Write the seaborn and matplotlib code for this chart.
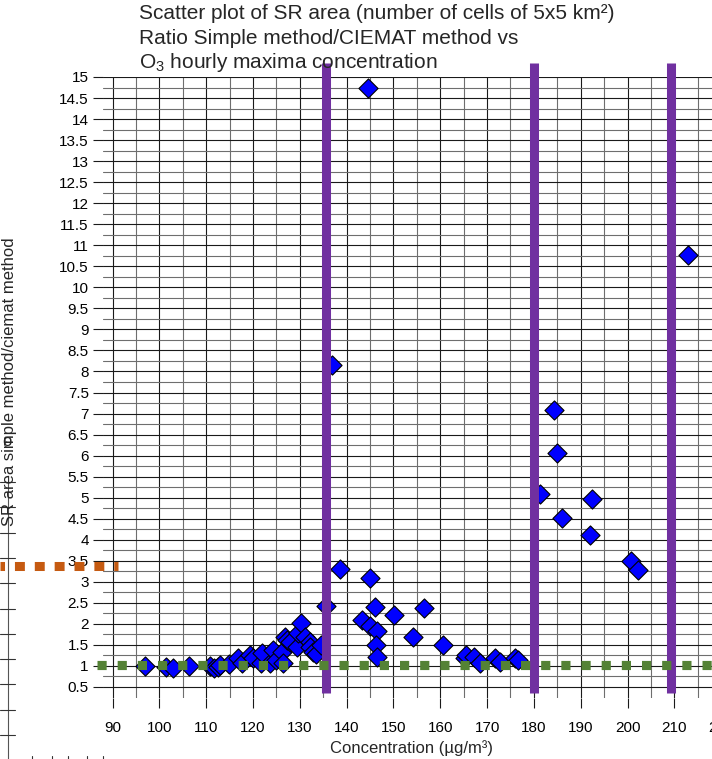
import matplotlib
matplotlib.use("Agg")
import matplotlib.pyplot as plt
import seaborn as sns
import numpy as np
import pandas as pd
from matplotlib.lines import Line2D

# ---------------- data ----------------
conc = [96.9, 101.5, 103.0, 106.4, 110.8, 111.6, 112.5, 113.0, 114.9, 116.8,
        117.6, 119.3, 119.9, 121.6, 122.0, 123.6, 124.2, 125.0, 126.1, 126.3,
        126.8, 127.2, 127.9, 129.3, 129.7, 130.3, 131.1, 132.2, 132.2, 132.9,
        133.5, 134.5, 135.5, 136.9, 138.6, 143.2, 144.6, 145.0, 145.0, 146.0,
        146.4, 146.2, 146.5, 150.1, 154.2, 156.5, 160.6, 165.3, 165.6, 167.1,
        168.5, 171.7, 172.8, 176.0, 176.6, 181.4, 184.3, 185.0, 186.1, 192.0,
        192.4, 200.7, 202.3, 213.0]
ratio = [1.00, 0.98, 0.95, 1.00, 1.00, 0.96, 0.98, 1.02, 1.05, 1.18,
         1.06, 1.26, 1.20, 1.06, 1.30, 1.06, 1.38, 1.14, 1.34, 1.06,
         1.70, 1.62, 1.58, 1.46, 1.78, 2.03, 1.70, 1.58, 1.46, 1.34,
         1.28, 1.50, 2.42, 8.15, 3.30, 2.09, 14.75, 3.10, 1.95, 2.39,
         1.82, 1.50, 1.22, 2.21, 1.68, 2.37, 1.50, 1.18, 1.26, 1.22,
         1.06, 1.18, 1.10, 1.18, 1.14, 5.09, 7.09, 6.06, 4.51, 4.12,
         4.96, 3.50, 3.27, 10.78]
threshold_x = [135.5, 180.0, 209.3]
ratio_one = 1.02
orange_level = 3.38

x_major = list(range(90, 230, 10))
x_minor = list(range(95, 225, 10))
y_major = [v / 2 for v in range(1, 31)]
y_minor = [v / 4 for v in range(3, 60, 2)]

title_lines = ["Scatter plot of SR area (number of cells of 5x5 km\u00b2)",
               "Ratio Simple method/CIEMAT method vs",
               r"O$_3$ hourly maxima concentration"]
xlabel = "Concentration (\u00b5g/m\u00b3)"
ylabel = "SR area simple method/ciemat method"

# ---------------- style ----------------
sns.set_style("white")
plt.rcParams['font.family'] = ['Liberation Sans', 'DejaVu Sans']
plt.rcParams['mathtext.fontset'] = 'custom'
plt.rcParams['mathtext.rm'] = 'Liberation Sans'
plt.rcParams['mathtext.it'] = 'Liberation Sans:italic'
plt.rcParams['mathtext.bf'] = 'Liberation Sans:bold'

W, H = 712, 759
fig = plt.figure(figsize=(W / 100, H / 100), dpi=100)

# axes placement (pixels)
x0_px, x1_px = 103.0, 730.5
y_top_px, y_bot_px = 77.0, 697.5
ax = fig.add_axes([x0_px / W, (H - y_bot_px) / H,
                   (x1_px - x0_px) / W, (y_bot_px - y_top_px) / H])

df = pd.DataFrame({"conc": conc, "ratio": ratio})
sns.scatterplot(data=df, x="conc", y="ratio", marker="D", s=95,
                color="#0000FF", edgecolor="black", linewidth=0.8,
                ax=ax, zorder=3, legend=False)

ax.set_xlim(87.95, 222)
ax.set_ylim(0.25, 15)

ax.set_xticks(x_major)
ax.set_xticks(x_minor, minor=True)
ax.set_yticks(y_major)
ax.set_yticks(y_minor, minor=True)
ax.set_xticklabels([str(v) for v in x_major])
ax.set_yticklabels([f"{v:g}" for v in y_major])

ax.set_axisbelow(True)
ax.grid(which="major", color="#1a1a1a", linewidth=0.8)
ax.grid(which="minor", color="#6e6e6e", linewidth=0.8)
for s in ax.spines.values():
    s.set_visible(False)
ax.tick_params(which="major", direction="out", length=7.2, width=0.8,
               color="#1a1a1a", labelsize=11, labelcolor="black")
ax.tick_params(axis="y", which="major", pad=3.0, left=True)
ax.tick_params(axis="x", which="major", pad=10, bottom=True)
ax.tick_params(which="minor", length=0)
ax.set_xlabel("")
ax.set_ylabel("")

# threshold vertical lines
ax.vlines(threshold_x, 0.36, 15.33, colors="#7030A0", linewidth=6.5,
          zorder=4, clip_on=False)

# ratio = 1 dotted line
ax.plot([86.6, 225], [ratio_one, ratio_one], color="#548235", linewidth=6.6,
        linestyle=(0, (1.0, 1.2)), dash_capstyle="butt", zorder=5,
        clip_on=False)

# orange dotted line from background chart
ax.plot([65.9, 91.2], [orange_level, orange_level], color="#C55A11",
        linewidth=6.5, linestyle=(0.6, (1.1, 1.1)), dash_capstyle="butt",
        zorder=5, clip_on=False)

# ---------------- text ----------------
for i, t in enumerate(title_lines):
    fig.text(139 / W, 1 - [19, 44, 68][i] / H, t, fontsize=15,
             ha="left", va="baseline")

fig.text(412 / W, 1 - 748 / H, xlabel, fontsize=12, ha="center",
         va="center")
fig.text(10 / W, 1 - 382 / H, ylabel, fontsize=12, rotation=90,
         ha="center", va="center")

# fragments of a background chart on the left edge
fig.add_artist(Line2D([8.3 / W, 8.3 / W], [1 - 482 / H, 0], color="#555555",
                      linewidth=0.8, transform=fig.transFigure))
for k in range(11):
    yy = 1 - (482 + 25.3 * k) / H
    fig.add_artist(Line2D([0, 15 / W], [yy, yy], color="#333333",
                          linewidth=0.8, transform=fig.transFigure))
fig.text(7 / W, 1 - 441 / H, "o", fontsize=12, ha="center", va="center")
for xx in [32, 52, 68, 87, 103]:
    fig.add_artist(Line2D([xx / W, xx / W], [0, 3 / H], color="#333333",
                          linewidth=0.8, transform=fig.transFigure))

fig.savefig("out.png", dpi=100)
